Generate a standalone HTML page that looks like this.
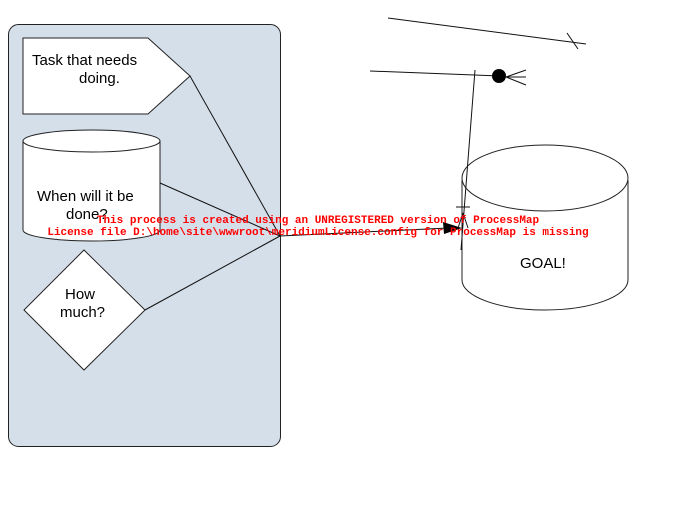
<!DOCTYPE html>
<html><head><meta charset="utf-8"><style>
html,body{margin:0;padding:0;background:#fff;width:687px;height:506px;overflow:hidden}
svg{display:block}
</style></head><body>
<svg width="687" height="506" viewBox="0 0 687 506" xmlns="http://www.w3.org/2000/svg">
<rect x="8.5" y="24.5" width="272" height="422" rx="10" fill="#d5dfea" stroke="#222" stroke-width="1"/>
<polygon points="23,38 148,38 190,76 148,114 23,114" fill="#fff" stroke="#222"/>
<text font-family="Liberation Sans, sans-serif" font-size="15" fill="#000"><tspan x="32" y="65">Task that needs</tspan><tspan x="79" y="83">doing.</tspan></text>
<path d="M23,141 L23,230 A68.5,11 0 0 0 160,230 L160,141" fill="#fff" stroke="#222"/>
<ellipse cx="91.5" cy="141" rx="68.5" ry="11" fill="#fff" stroke="#222"/>
<text font-family="Liberation Sans, sans-serif" font-size="15" fill="#000"><tspan x="37" y="201">When will it be</tspan><tspan x="66" y="219">done?</tspan></text>
<polygon points="84,250 145,310 84,370 24,310" fill="#fff" stroke="#222"/>
<text font-family="Liberation Sans, sans-serif" font-size="15" fill="#000"><tspan x="65" y="299">How</tspan><tspan x="60" y="317">much?</tspan></text>
<g stroke="#111" stroke-width="1" fill="none">
<line x1="190" y1="76" x2="280" y2="236"/>
<line x1="160" y1="183" x2="280" y2="236"/>
<line x1="145" y1="310" x2="280" y2="236"/>
<line x1="280" y1="236" x2="448" y2="228"/>
<line x1="388" y1="18" x2="586" y2="44"/>
<line x1="567" y1="33" x2="578" y2="49"/>
<line x1="370" y1="71" x2="500" y2="76"/>
<line x1="506" y1="77" x2="526" y2="70"/>
<line x1="506" y1="77" x2="526" y2="77"/>
<line x1="506" y1="77" x2="526" y2="85"/>
</g>
<polygon points="443,222 462,228 444,234" fill="#000"/>
<circle cx="499" cy="76" r="7" fill="#000"/>
<path d="M462,180 L462,280 A83,30 0 0 0 628,280 L628,180" fill="#fff" stroke="#222"/>
<ellipse cx="545" cy="178" rx="83" ry="33" fill="#fff" stroke="#222"/>
<g stroke="#111" fill="none">
<line x1="475" y1="70" x2="461" y2="250"/>
<line x1="456" y1="207" x2="470" y2="207"/>
<line x1="463" y1="213" x2="458" y2="228"/>
<line x1="463" y1="213" x2="468" y2="228"/>
</g>
<text x="520" y="268" font-family="Liberation Sans, sans-serif" font-size="15" fill="#000">GOAL!</text>
<text font-family="Liberation Mono, monospace" font-size="11" font-weight="bold" fill="#f00" text-anchor="middle"><tspan x="318" y="223">This process is created using an UNREGISTERED version of ProcessMap</tspan><tspan x="318" y="235">License file D:\home\site\wwwroot\meridiumLicense.config for ProcessMap is missing</tspan></text>
</svg>
</body></html>
